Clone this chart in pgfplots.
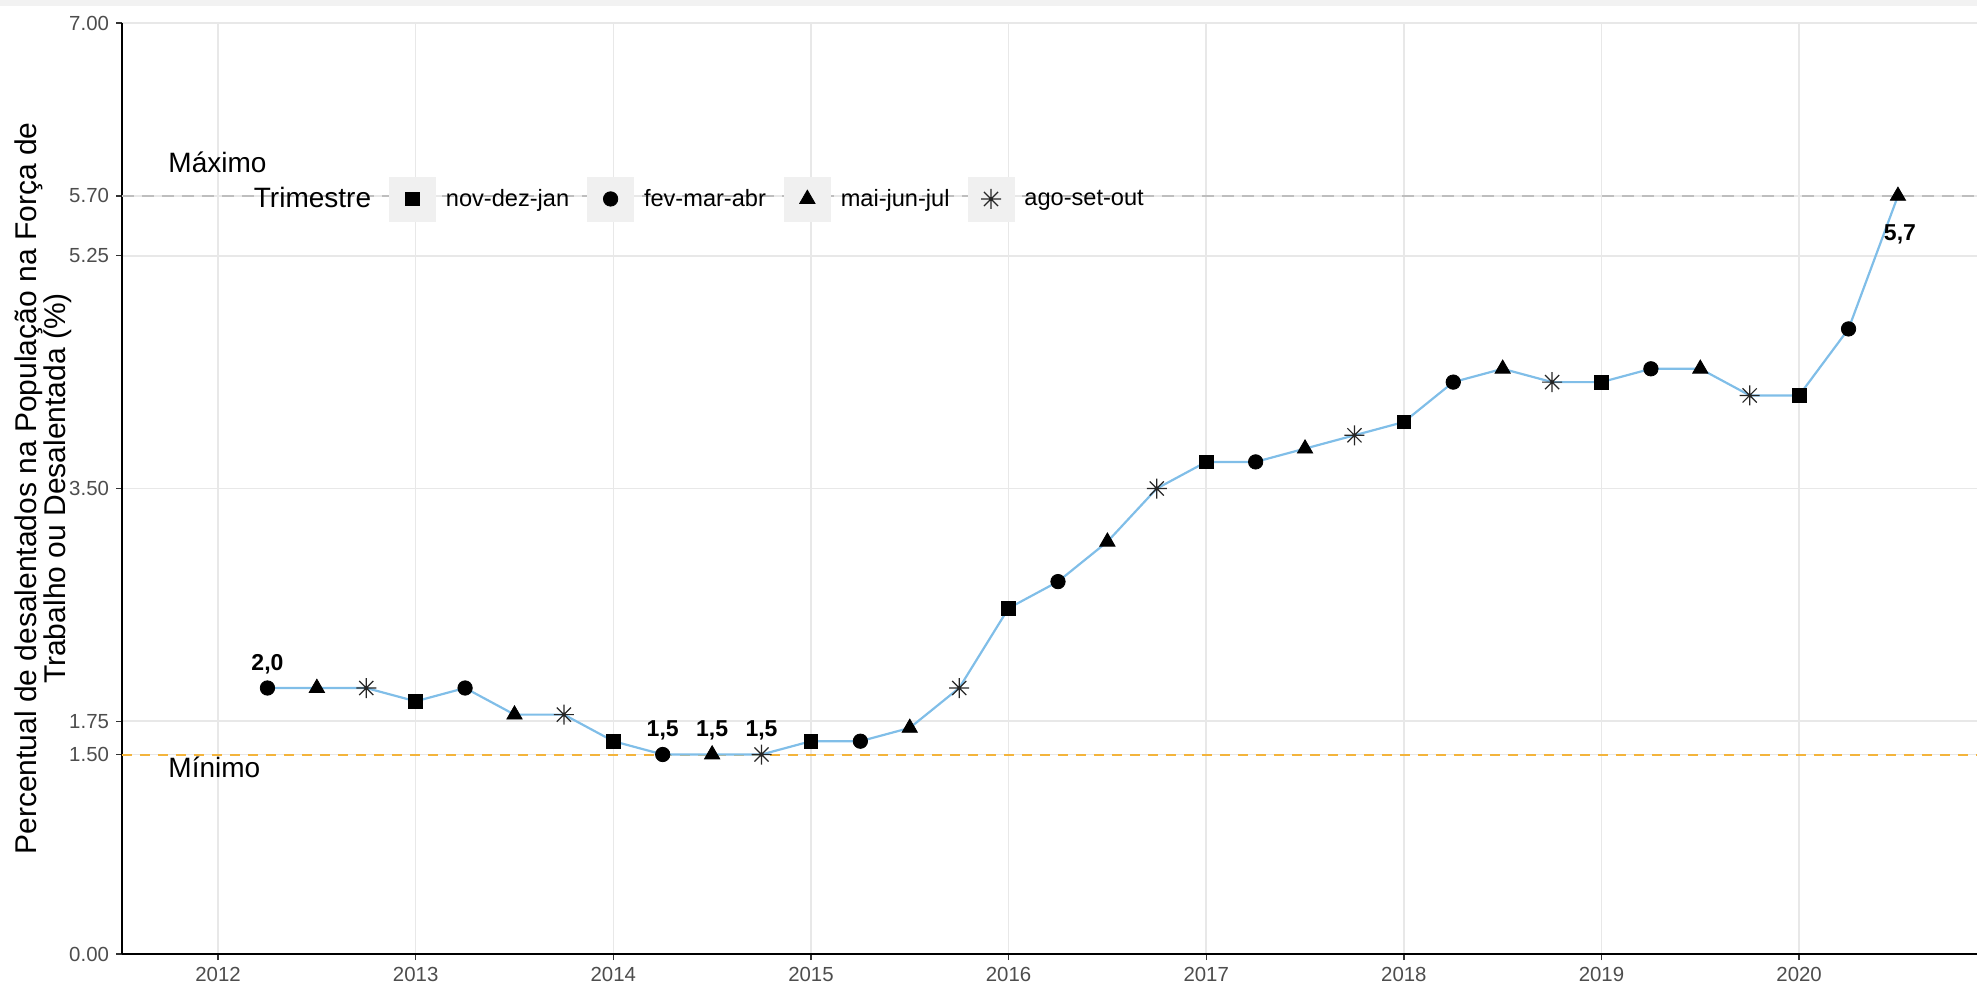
\documentclass[border=0pt]{standalone}
\usepackage{pgfplots}
\pgfplotsset{compat=1.18}
\usepackage{pgfplotstable}
\usepackage{fontspec}
\setmainfont{Liberation Sans}
\definecolor{linha}{RGB}{128,190,232}
\definecolor{minc}{RGB}{243,180,60}
\definecolor{maxc}{RGB}{190,190,190}
\definecolor{gridc}{RGB}{232,232,232}
\definecolor{tickc}{RGB}{77,77,77}
\definecolor{keyc}{RGB}{240,240,240}

\pgfdeclareplotmark{ast}{%
  \pgfpathmoveto{\pgfqpoint{0pt}{\pgfplotmarksize}}\pgfpathlineto{\pgfqpoint{0pt}{-\pgfplotmarksize}}%
  \pgfpathmoveto{\pgfqpoint{\pgfplotmarksize}{0pt}}\pgfpathlineto{\pgfqpoint{-\pgfplotmarksize}{0pt}}%
  \pgfpathmoveto{\pgfqpoint{.707\pgfplotmarksize}{.707\pgfplotmarksize}}\pgfpathlineto{\pgfqpoint{-.707\pgfplotmarksize}{-.707\pgfplotmarksize}}%
  \pgfpathmoveto{\pgfqpoint{.707\pgfplotmarksize}{-.707\pgfplotmarksize}}\pgfpathlineto{\pgfqpoint{-.707\pgfplotmarksize}{.707\pgfplotmarksize}}%
  \pgfusepathqstroke}

\pgfplotsset{keyimg/.style={legend image code/.code={%
  \fill[keyc] (0pt,-11pt) rectangle (23pt,11pt);
  \draw[##1] plot coordinates {(11.5pt,0pt)};}}}

% serie completa (linha)
\pgfplotstableread{
t v
2012.25 2.0
2012.50 2.0
2012.75 2.0
2013.00 1.9
2013.25 2.0
2013.50 1.8
2013.75 1.8
2014.00 1.6
2014.25 1.5
2014.50 1.5
2014.75 1.5
2015.00 1.6
2015.25 1.6
2015.50 1.7
2015.75 2.0
2016.00 2.6
2016.25 2.8
2016.50 3.1
2016.75 3.5
2017.00 3.7
2017.25 3.7
2017.50 3.8
2017.75 3.9
2018.00 4.0
2018.25 4.3
2018.50 4.4
2018.75 4.3
2019.00 4.3
2019.25 4.4
2019.50 4.4
2019.75 4.2
2020.00 4.2
2020.25 4.7
2020.50 5.7
}\serie

\pgfplotstableread{
t v
2013.00 1.9
2014.00 1.6
2015.00 1.6
2016.00 2.6
2017.00 3.7
2018.00 4.0
2019.00 4.3
2020.00 4.2
}\ndj

\pgfplotstableread{
t v
2012.25 2.0
2013.25 2.0
2014.25 1.5
2015.25 1.6
2016.25 2.8
2017.25 3.7
2018.25 4.3
2019.25 4.4
2020.25 4.7
}\fma

\pgfplotstableread{
t v
2012.50 2.0
2013.50 1.8
2014.50 1.5
2015.50 1.7
2016.50 3.1
2017.50 3.8
2018.50 4.4
2019.50 4.4
2020.50 5.7
}\mjj

\pgfplotstableread{
t v
2012.75 2.0
2013.75 1.8
2014.75 1.5
2015.75 2.0
2016.75 3.5
2017.75 3.9
2018.75 4.3
2019.75 4.2
}\aso

\begin{document}
\begin{tikzpicture}
\fill[black!5] (-61pt,474pt) rectangle (927.5pt,477pt);
\begin{axis}[
  at={(0,0)}, anchor=south west,
  scale only axis, width=927.5pt, height=465.5pt,
  xmin=2011.514, xmax=2020.9, ymin=0, ymax=7,
  axis lines*=left,
  axis line style={-, line width=1pt, black},
  xtick={2012,2013,2014,2015,2016,2017,2018,2019,2020},
  xticklabels={2012,2013,2014,2015,2016,2017,2018,2019,2020},
  ytick={0,1.5,1.75,3.5,5.25,5.7,7},
  yticklabels={0.00,1.50,1.75,3.50,5.25,5.70,7.00},
  tick align=outside, major tick length=3pt,
  tick style={black!80, line width=0.7pt},
  tick label style={font=\fontsize{10.2}{12}\selectfont, text=tickc},
  xmajorgrids, ymajorgrids,
  major grid style={gridc, line width=0.8pt},
  ylabel={Percentual de desalentados na População na Força de\\Trabalho ou Desalentada (\%)},
  ylabel style={at={(axis description cs:-0.0426,0.5)}, anchor=center, align=center,
    font=\fontsize{15}{14.5}\selectfont},
  legend columns=-1,
  legend style={at={(0.0655,0.811)}, anchor=west, draw=none, fill=none,
    inner sep=0pt, font=\fontsize{11.8}{13}\selectfont,
    /tikz/every odd column/.style={column sep=3pt},
    /tikz/every even column/.style={column sep=7pt}},
  clip=false,
]
\addlegendimage{empty legend}
\addlegendentry{\fontsize{14}{16}\selectfont Trimestre}

\addplot[forget plot, maxc, line width=0.9pt, dash pattern=on 6pt off 4pt] coordinates {(2011.514,5.7) (2020.9,5.7)};
\addplot[forget plot, minc, line width=1pt, dash pattern=on 5pt off 4pt] coordinates {(2011.514,1.5) (2020.9,1.5)};

\addplot[forget plot, linha, line width=1.1pt, mark=none] table[x=t,y=v] {\serie};

\addplot[only marks, mark=square*, mark size=3.4pt, mark options={fill=black, draw=black}, keyimg] table[x=t,y=v] {\ndj};
\addlegendentry{nov-dez-jan}
\addplot[only marks, mark=*, mark size=3.6pt, mark options={fill=black, draw=black}, keyimg] table[x=t,y=v] {\fma};
\addlegendentry{fev-mar-abr}
\addplot[only marks, mark=triangle*, mark size=4.4pt, mark options={fill=black, draw=black}, keyimg] table[x=t,y=v] {\mjj};
\addlegendentry{mai-jun-jul}
\addplot[only marks, mark=ast, mark size=5pt, mark options={draw=black!85, line width=0.6pt}, keyimg] table[x=t,y=v] {\aso};
\addlegendentry{ago-set-out}

\addplot[forget plot, only marks, mark=none, nodes near coords, point meta=explicit symbolic,
  nodes near coords style={font=\bfseries\fontsize{11.5}{13}\selectfont, anchor=south, yshift=3.5pt}]
  table[x=t,y=v,meta=lab] {
t v lab
2012.25 2.0 2,0
2014.25 1.5 1,5
2014.50 1.5 1,5
2014.75 1.5 1,5
};
\addplot[forget plot, only marks, mark=none, nodes near coords, point meta=explicit symbolic,
  nodes near coords style={font=\bfseries\fontsize{11.5}{13}\selectfont, anchor=north, yshift=-11pt, xshift=1pt}]
  table[x=t,y=v,meta=lab] {
t v lab
2020.50 5.7 5,7
};

\node[anchor=west, inner sep=0pt, font=\fontsize{14}{16}\selectfont] at (axis cs:2011.747,5.95) {Máximo};
\node[anchor=west, inner sep=0pt, font=\fontsize{14}{16}\selectfont] at (axis cs:2011.747,1.40) {Mínimo};
\end{axis}
\pgfresetboundingbox
\useasboundingbox (-61pt,-16.5pt) rectangle (927.5pt,477pt);
\end{tikzpicture}
\end{document}
